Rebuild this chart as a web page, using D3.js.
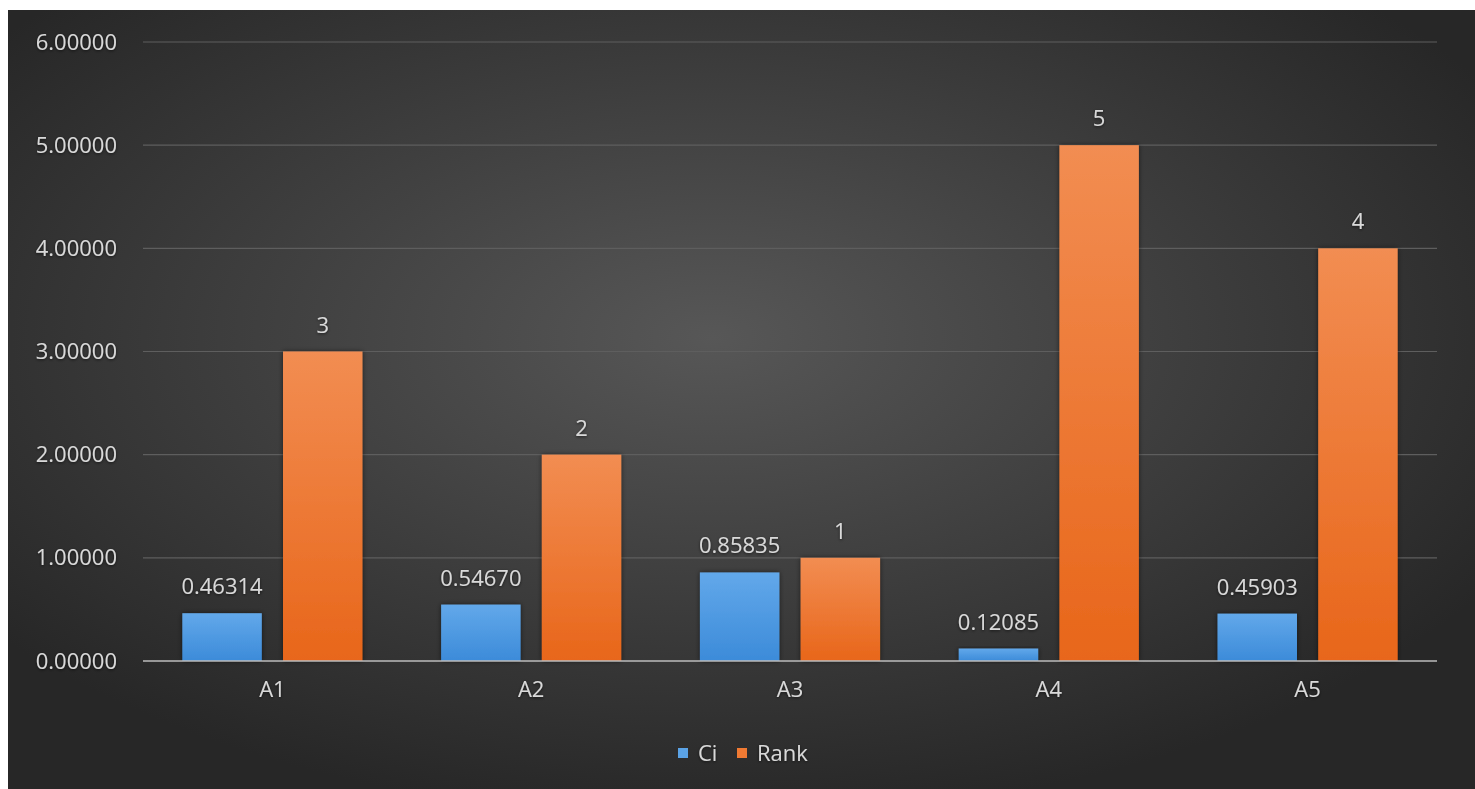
<!DOCTYPE html>
<html>
<head>
<meta charset="utf-8">
<script src="https://cdn.jsdelivr.net/npm/d3@7"></script>
<style>
  html, body { margin: 0; padding: 0; background: #ffffff; }
  svg { display: block; }
</style>
</head>
<body>
<svg id="chart" width="1475" height="789"></svg>
<script>
// Alternatives and their closeness coefficient (Ci) and resulting rank
const categories = ["A1", "A2", "A3", "A4", "A5"];
const ciValues = [0.46314, 0.54670, 0.85835, 0.12085, 0.45903];
const rankValues = [3, 2, 1, 5, 4];
const seriesNames = ["Ci", "Rank"];
const yTicks = [0, 1, 2, 3, 4, 5, 6];

const W = 1475, H = 789;
const svg = d3.select("#chart");
const defs = svg.append("defs");

// Dark chart area with a soft lighter centre
const bg = defs.append("radialGradient").attr("id", "bgGrad")
  .attr("cx", "48%").attr("cy", "42%").attr("r", "62%");
bg.append("stop").attr("offset", "0%").attr("stop-color", "#575757");
bg.append("stop").attr("offset", "100%").attr("stop-color", "#272727");

const blue = defs.append("linearGradient").attr("id", "blueGrad")
  .attr("x1", 0).attr("y1", 0).attr("x2", 0).attr("y2", 1);
blue.append("stop").attr("offset", "0%").attr("stop-color", "#62a8ea");
blue.append("stop").attr("offset", "100%").attr("stop-color", "#3c8bd9");

const orange = defs.append("linearGradient").attr("id", "orangeGrad")
  .attr("x1", 0).attr("y1", 0).attr("x2", 0).attr("y2", 1);
orange.append("stop").attr("offset", "0%").attr("stop-color", "#f28d52");
orange.append("stop").attr("offset", "100%").attr("stop-color", "#e8661a");

const glow = defs.append("filter").attr("id", "txtShadow")
  .attr("x", "-20%").attr("y", "-40%").attr("width", "140%").attr("height", "180%");
glow.append("feDropShadow").attr("dx", 0).attr("dy", 1).attr("stdDeviation", 1.5)
  .attr("flood-color", "#000").attr("flood-opacity", 0.6);

const barShadow = defs.append("filter").attr("id", "barShadow")
  .attr("x", "-20%").attr("y", "-20%").attr("width", "140%").attr("height", "140%");
barShadow.append("feDropShadow").attr("dx", 0).attr("dy", 0).attr("stdDeviation", 2.5)
  .attr("flood-color", "#000").attr("flood-opacity", 0.55);

svg.append("rect").attr("x", 8).attr("y", 10).attr("width", W - 8).attr("height", H - 10)
  .attr("fill", "url(#bgGrad)");

const plot = { left: 143, right: 1437, top: 42, bottom: 661 };
const font = "'Open Sans', 'Noto Sans', sans-serif";
const textColor = "#d9d9d9";

const x0 = d3.scaleBand().domain(categories).range([plot.left, plot.right]).paddingInner(0).paddingOuter(0);
const y = d3.scaleLinear().domain([0, 6]).range([plot.bottom, plot.top]);

// Gridlines
svg.append("g")
  .selectAll("line").data(yTicks.filter(d => d > 0)).join("line")
  .attr("x1", plot.left).attr("x2", plot.right)
  .attr("y1", d => y(d)).attr("y2", d => y(d))
  .attr("stroke", "#5e5e5e").attr("stroke-width", 1.2);

// Y axis labels
const yAxis = d3.axisLeft(y).tickValues(yTicks).tickFormat(d3.format(".5f")).tickSize(0).tickPadding(26);
const yg = svg.append("g").attr("transform", `translate(${plot.left},0)`).call(yAxis);
yg.select(".domain").remove();
yg.selectAll("text").attr("fill", textColor).attr("font-family", font).attr("font-size", 22)
  .attr("filter", "url(#txtShadow)");

// Bars: each category holds two bars with a small gap between
const groupW = x0.bandwidth();
const barW = groupW * 0.307;
const innerGap = groupW * 0.082;
const series = [
  { name: seriesNames[0], values: ciValues, fill: "url(#blueGrad)", fmt: d3.format(".5f"), offset: -innerGap / 2 - barW },
  { name: seriesNames[1], values: rankValues, fill: "url(#orangeGrad)", fmt: d => String(d), offset: innerGap / 2 }
];

series.forEach(s => {
  const g = svg.append("g");
  g.selectAll("rect").data(categories).join("rect")
    .attr("x", (c) => x0(c) + groupW / 2 + s.offset)
    .attr("y", (c, i) => y(s.values[i]))
    .attr("width", barW)
    .attr("height", (c, i) => y(0) - y(s.values[i]))
    .attr("fill", s.fill)
    .attr("filter", "url(#barShadow)");
  g.selectAll("text").data(categories).join("text")
    .attr("x", (c) => x0(c) + groupW / 2 + s.offset + barW / 2)
    .attr("y", (c, i) => y(s.values[i]) - 19)
    .attr("text-anchor", "middle")
    .attr("fill", textColor).attr("font-family", font).attr("font-size", 22)
    .attr("filter", "url(#txtShadow)")
    .text((c, i) => s.fmt(s.values[i]));
});

// Baseline
svg.append("line").attr("x1", plot.left).attr("x2", plot.right)
  .attr("y1", y(0)).attr("y2", y(0)).attr("stroke", "#bdbdbd").attr("stroke-width", 1.5);

// Category axis labels
const xAxis = d3.axisBottom(x0).tickSize(0).tickPadding(20);
const xg = svg.append("g").attr("transform", `translate(0,${plot.bottom})`).call(xAxis);
xg.select(".domain").remove();
xg.selectAll("text").attr("fill", textColor).attr("font-family", font).attr("font-size", 22)
  .attr("filter", "url(#txtShadow)");

// Legend
const legend = svg.append("g").attr("transform", "translate(678,753)");
const legendItems = [
  { name: seriesNames[0], color: "#5ba3e6", x: 0 },
  { name: seriesNames[1], color: "#f07a33", x: 59 }
];
legendItems.forEach(it => {
  legend.append("rect").attr("x", it.x).attr("y", -5).attr("width", 10).attr("height", 10).attr("fill", it.color);
  legend.append("text").attr("x", it.x + 20).attr("y", 0).attr("dy", "0.35em")
    .attr("fill", textColor).attr("font-family", font).attr("font-size", 22)
    .attr("filter", "url(#txtShadow)")
    .text(it.name);
});
</script>
</body>
</html>
